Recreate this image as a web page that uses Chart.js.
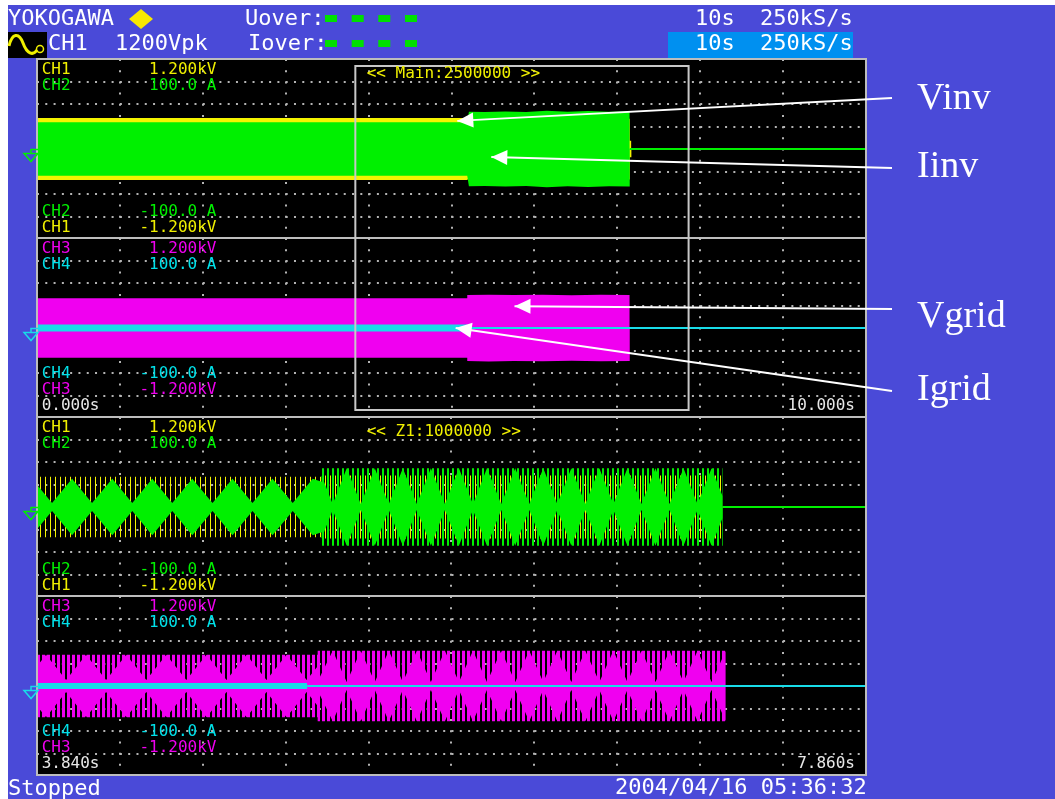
<!DOCTYPE html>
<html>
<head>
<meta charset="utf-8">
<title>Inverter to grid transfer</title>
<script src="https://cdn.jsdelivr.net/npm/chart.js@4.4.1/dist/chart.umd.min.js"></script>
<style>
  body { margin: 0; background: #fff; }
  #scope { position: relative; width: 1055px; height: 799px; overflow: hidden; background: #fff; }
  #frame { position: absolute; left: 8px; top: 5px; right: 0; bottom: 0; background: #4a4ad8; }
  #tbox { position: absolute; left: 668px; top: 32px; width: 185px; height: 26px; background: #0090f0; }
  #screen { position: absolute; left: 37px; top: 59px; width: 829px; height: 716px; background: #000; }
  #bezel { position: absolute; left: 36px; top: 58px; width: 831px; height: 718px; border: 2px solid #bdbdbd; box-sizing: border-box; }
  .sep { position: absolute; left: 37px; width: 829px; height: 2px; background: #bdbdbd; }
  canvas.panel { position: absolute; left: 37px; }
  #overlay { position: absolute; left: 0; top: 0; }
  .t { position: absolute; white-space: pre; line-height: 1; font-family: 'DejaVu Sans Mono', monospace; }
  .s { font-size: 16px; }
  .h { font-size: 22px; color: #fff; }
  .lbl { font-family: 'Liberation Serif', serif; font-size: 38px; color: #fff; }
</style>
</head>
<body>
<div id="scope">
  <div id="frame"></div>
  <div id="tbox"></div>
  <div id="screen"></div>
  <canvas id="p1" class="panel" width="829" height="180" style="top:59px"></canvas>
  <canvas id="p2" class="panel" width="829" height="180" style="top:238px"></canvas>
  <canvas id="p3" class="panel" width="829" height="180" style="top:417px"></canvas>
  <canvas id="p4" class="panel" width="829" height="180" style="top:596px"></canvas>
  <div id="bezel"></div>
  <div class="sep" style="top:237px"></div>
  <div class="sep" style="top:416px"></div>
  <div class="sep" style="top:595px"></div>
  <canvas id="overlay" width="1055" height="799"></canvas>
</div>
<script>
// timebases and vertical ranges
const mainSpan = [0, 10];        // s, upper two traces
const zoomSpan = [3.84, 7.86];   // s, Z1 window, lower two traces
const voltSpan = [-1200, 1200];  // V  (CH1, CH3)
const ampSpan  = [-100, 100];    // A  (CH2, CH4)

// envelopes: time (s) and peak value, traces are symmetric about zero
// CH1 Vinv, main window
const vinvT  = [0, 5.19, 5.19, 7.15, 7.15, 7.17, 7.17, 10];
const vinvPk = [414, 414, 405, 405, 110, 110, 0, 0];
// CH2 Iinv, main window
const iinvT  = [0, 5.19, 5.21, 5.40, 5.65, 5.90, 6.15, 6.40, 6.65, 6.90, 7.15, 7.15, 10];
const iinvPk = [29.8, 29.8, 41.5, 41.0, 41.8, 41.2, 42.4, 41.5, 42.1, 41.4, 41.7, 0, 0];
// CH3 Vgrid, main window
const vgridT  = [0, 5.19, 5.19, 5.45, 5.75, 6.10, 6.45, 6.80, 7.15, 7.15, 10];
const vgridPk = [396, 396, 441, 445, 440, 444, 438, 443, 441, 0, 0];
// CH4 Igrid, main window
const igridT  = [0, 5.19, 5.19, 10];
const igridPk = [3.9, 3.9, 0, 0];

// Z1 window
const vinvZT   = [3.84, 5.22, 5.22, 7.165, 7.165, 7.86];
const vinvZPk  = [402, 402, 420, 420, 0, 0];
const iinvZT   = [3.84, 5.22, 5.22, 7.165, 7.165, 7.86];
const iinvZPk  = [0, 0, 43, 43, 0, 0];
// beat pattern of the Iinv samples (peaks and waists)
const iinvBeatT = [3.840, 3.913, 4.010, 4.107, 4.205, 4.302, 4.399, 4.496, 4.593, 4.691, 4.788, 4.885,
  4.982, 5.080, 5.177, 5.220, 5.220, 5.274, 5.342, 5.410, 5.478, 5.546, 5.614, 5.682, 5.750, 5.818,
  5.886, 5.954, 6.022, 6.091, 6.159, 6.227, 6.295, 6.363, 6.431, 6.499, 6.567, 6.635, 6.703, 6.771,
  6.839, 6.907, 6.975, 7.043, 7.111, 7.165, 7.165];
const iinvBeatPk = [24.6, 4.5, 31.3, 4.5, 31.3, 4.5, 31.3, 4.5, 31.3, 4.5, 31.3, 4.5,
  31.3, 4.5, 31.3, 28, 35, 3.4, 43, 3.4, 43, 3.4, 43, 3.4, 43, 3.4,
  43, 3.4, 43, 3.4, 43, 3.4, 43, 3.4, 43, 3.4, 43, 3.4, 43, 3.4,
  43, 3.4, 43, 3.4, 43, 12, 0];
const vgridZT  = [3.84, 5.201, 5.201, 7.18, 7.18, 7.86];
const vgridZPk = [416, 416, 469, 469, 0, 0];
const vgridBeatT = [3.840, 3.884, 3.981, 4.078, 4.175, 4.273, 4.370, 4.467, 4.564, 4.662, 4.759, 4.856,
  4.953, 5.050, 5.148, 5.201, 5.201, 5.274, 5.342, 5.410, 5.478, 5.546, 5.614, 5.682, 5.750, 5.818,
  5.886, 5.954, 6.022, 6.091, 6.159, 6.227, 6.295, 6.363, 6.431, 6.499, 6.567, 6.635, 6.703, 6.771,
  6.839, 6.907, 6.975, 7.043, 7.111, 7.180, 7.180];
const vgridBeatPk = [265, 416, 80, 416, 80, 416, 80, 416, 80, 416, 80, 416,
  80, 416, 80, 265, 60, 469, 54, 469, 54, 469, 54, 469, 54, 469,
  54, 469, 54, 469, 54, 469, 54, 469, 54, 469, 54, 469, 54, 469,
  54, 469, 54, 469, 54, 469, 0];
const igridZT  = [3.84, 5.15, 5.15, 7.86];
const igridZPk = [3.4, 3.4, 0, 0];

const YELLOW = '#f4f400', GREEN = '#00f000', MAGENTA = '#f000f0', CYAN = '#18dce8', DOT = '#b4b4b4';
const LEFT = 37, TOPS = [59, 238, 417, 596];

// vertical stripe fill, 5px period
function stripes(canvas, color, on, shift) {
  const c = document.createElement('canvas');
  c.width = 5; c.height = 2;
  const g = c.getContext('2d');
  g.fillStyle = color;
  g.fillRect(shift, 0, on, 2);
  return canvas.getContext('2d').createPattern(c, 'repeat');
}

// upper and lower edge of an envelope, both filled to zero.
// where the envelope is flat at zero the idle trace is drawn
function band(t, pk, color, fill, axis, order) {
  const edge = sign => t.map((x, i) => ({ x: x, y: sign * pk[i] }));
  const common = { yAxisID: axis, order: order, fill: 'origin', backgroundColor: fill,
    borderColor: 'rgba(0,0,0,0)', pointRadius: 0, tension: 0 };
  return [
    Object.assign({ data: edge(1), borderWidth: 2,
      segment: { borderColor: c => (c.p0.parsed.y === 0 && c.p1.parsed.y === 0) ? color : undefined } }, common),
    Object.assign({ data: edge(-1), borderWidth: 0 }, common)
  ];
}

function divisions(span, n) {
  const out = [];
  for (let i = 0; i <= n; i++) out.push({ value: span[0] + (span[1] - span[0]) * i / n });
  return out;
}

function scopePanel(canvas, span, datasets) {
  return new Chart(canvas, {
    type: 'line',
    data: { datasets: datasets },
    options: {
      responsive: false, animation: false, events: [], devicePixelRatio: 1,
      layout: { padding: 0, autoPadding: false },
      plugins: { legend: { display: false }, tooltip: { enabled: false } },
      scales: {
        x: { type: 'linear', min: span[0], max: span[1], z: 1,
             afterBuildTicks: s => { s.ticks = divisions(span, 10); },
             ticks: { display: false },
             grid: { color: DOT, lineWidth: 2, drawTicks: false },
             border: { display: false, dash: [2, 9.19] } },
        yV: { type: 'linear', position: 'left', min: voltSpan[0], max: voltSpan[1], z: 1,
              afterBuildTicks: s => { s.ticks = divisions(voltSpan, 8); },
              ticks: { display: false },
              grid: { color: DOT, lineWidth: 2, drawTicks: false },
              border: { display: false, dash: [2, 6.29] } },
        yA: { type: 'linear', position: 'right', min: ampSpan[0], max: ampSpan[1], display: false }
      }
    }
  });
}

const cv = ['p1', 'p2', 'p3', 'p4'].map(id => document.getElementById(id));
const charts = [
  scopePanel(cv[0], mainSpan, [
    ...band(iinvT, iinvPk, GREEN, GREEN, 'yA', 1),
    ...band(vinvT, vinvPk, YELLOW, YELLOW, 'yV', 2)]),
  scopePanel(cv[1], mainSpan, [
    ...band(igridT, igridPk, CYAN, CYAN, 'yA', 1),
    ...band(vgridT, vgridPk, MAGENTA, MAGENTA, 'yV', 2)]),
  scopePanel(cv[2], zoomSpan, [
    ...band(iinvBeatT, iinvBeatPk, GREEN, GREEN, 'yA', 1),
    ...band(iinvZT, iinvZPk, GREEN, stripes(cv[2], GREEN, 2, 0), 'yA', 2),
    ...band(vinvZT, vinvZPk, YELLOW, stripes(cv[2], YELLOW, 1, 3), 'yV', 3)]),
  scopePanel(cv[3], zoomSpan, [
    ...band(igridZT, igridZPk, CYAN, CYAN, 'yA', 1),
    ...band(vgridBeatT, vgridBeatPk, MAGENTA, MAGENTA, 'yV', 2),
    ...band(vgridZT, vgridZPk, MAGENTA, stripes(cv[3], MAGENTA, 3, 0), 'yV', 3)])
];

// ---- overlay: zoom window, ground marks, callouts, header icons ----
const ov = document.getElementById('overlay').getContext('2d');
const px = (i, t) => LEFT + charts[i].scales.x.getPixelForValue(t);
const py = (i, axis, v) => TOPS[i] + charts[i].scales[axis].getPixelForValue(v);

const zx0 = px(0, zoomSpan[0]), zx1 = px(0, zoomSpan[1]);
ov.strokeStyle = '#c8c8c8'; ov.lineWidth = 2;
ov.strokeRect(zx0, 66, zx1 - zx0, 344);

function ground(i, color) {
  const y = Math.round(py(i, 'yV', 0)) + 0.5;
  ov.strokeStyle = color; ov.lineWidth = 1.5;
  ov.beginPath(); ov.moveTo(39, y); ov.lineTo(31, y); ov.lineTo(31, y + 4); ov.stroke();
  ov.beginPath(); ov.moveTo(24, y + 4); ov.lineTo(38, y + 4); ov.lineTo(31, y + 12); ov.closePath(); ov.stroke();
}
ground(0, GREEN); ground(1, CYAN); ground(2, GREEN); ground(3, CYAN);

const callouts = [
  { text: 'Vinv',  panel: 0, axis: 'yV', t: 5.07, v: 375, top: 76.5,  end: [892, 98] },
  { text: 'Iinv',  panel: 0, axis: 'yA', t: 5.48, v: -9,  top: 144.9, end: [892, 168] },
  { text: 'Vgrid', panel: 1, axis: 'yV', t: 5.76, v: 290, top: 294.9, end: [892, 309] },
  { text: 'Igrid', panel: 1, axis: 'yA', t: 5.05, v: 0,   top: 368.2, end: [892, 391] }
];

function arrow(x0, y0, x1, y1) {
  const a = Math.atan2(y1 - y0, x1 - x0), c = Math.cos(a), s = Math.sin(a);
  ov.strokeStyle = '#fff'; ov.fillStyle = '#fff'; ov.lineWidth = 2;
  ov.beginPath(); ov.moveTo(x0, y0); ov.lineTo(x1, y1); ov.stroke();
  ov.beginPath(); ov.moveTo(x1, y1);
  ov.lineTo(x1 - 16 * c + 7.5 * s, y1 - 16 * s - 7.5 * c);
  ov.lineTo(x1 - 16 * c - 7.5 * s, y1 - 16 * s + 7.5 * c);
  ov.closePath(); ov.fill();
}
callouts.forEach(k => arrow(k.end[0], k.end[1], px(k.panel, k.t), py(k.panel, k.axis, k.v)));

// waveform icon and trigger diamond in the header
ov.fillStyle = '#000'; ov.fillRect(8, 32, 39, 26);
ov.strokeStyle = '#f0f000'; ov.lineWidth = 3;
ov.beginPath(); ov.moveTo(9, 46);
ov.bezierCurveTo(12, 33, 19, 32, 23, 43);
ov.bezierCurveTo(27, 54, 33, 56, 37, 50);
ov.stroke();
ov.lineWidth = 1.5;
ov.beginPath(); ov.arc(40, 49, 3.5, 0, Math.PI * 2); ov.stroke();
ov.fillStyle = '#f8e800';
ov.beginPath(); ov.moveTo(141, 9); ov.lineTo(153, 19); ov.lineTo(141, 29); ov.lineTo(129, 19); ov.closePath(); ov.fill();
ov.fillStyle = '#00e000';
[325, 351.7, 378.3, 405].forEach(x => { ov.fillRect(x, 15, 12, 7); ov.fillRect(x, 40, 12, 7); });

// ---- text ----
const scope = document.getElementById('scope');
function put(text, x, y, cls, color, alignRight) {
  const d = document.createElement('div');
  d.className = 't ' + cls;
  d.textContent = text;
  if (alignRight) d.style.right = (1055 - x) + 'px'; else d.style.left = x + 'px';
  d.style.top = y + 'px';
  if (color) d.style.color = color;
  scope.appendChild(d);
}

put('YOKOGAWA', 8, 7.4, 'h');
put('Uover:', 245, 7.4, 'h');
put('10s', 695, 7.4, 'h');
put('250kS/s', 760, 7.4, 'h');
put('CH1', 48, 32.4, 'h');
put('1200Vpk', 115, 32.4, 'h');
put('Iover:', 248, 32.4, 'h');
put('10s', 695, 32.4, 'h');
put('250kS/s', 760, 32.4, 'h');
put('Stopped', 8, 776.7, 'h');
put('2004/04/16 05:36:32', 615, 775.7, 'h');

const TXT_Y = '#f0f000', TXT_G = '#00f000', TXT_M = '#f000f0', TXT_C = '#00e0e8';
function channelText(top, vCh, vCol, aCh, aCol, span) {
  put(vCh, 41.7, top + 2, 's', vCol);  put('1.200kV', 149, top + 2, 's', vCol);
  put(aCh, 41.7, top + 17.6, 's', aCol); put('100.0 A', 149, top + 17.6, 's', aCol);
  const low = span ? top + 127.4 : top + 144.1;
  put(aCh, 41.7, low, 's', aCol); put('-100.0 A', 139.4, low, 's', aCol);
  put(vCh, 41.7, low + 15.5, 's', vCol); put('-1.200kV', 139.4, low + 15.5, 's', vCol);
  if (span) {
    put(span[0].toFixed(3) + 's', 41.7, low + 32, 's', '#e8e8e8');
    put(span[1].toFixed(3) + 's', 855, low + 32, 's', '#e8e8e8', true);
  }
}
channelText(TOPS[0], 'CH1', TXT_Y, 'CH2', TXT_G, null);
channelText(TOPS[1], 'CH3', TXT_M, 'CH4', TXT_C, mainSpan);
channelText(TOPS[2], 'CH1', TXT_Y, 'CH2', TXT_G, null);
channelText(TOPS[3], 'CH3', TXT_M, 'CH4', TXT_C, zoomSpan);
put('<< Main:2500000 >>', 366.7, 64.8, 's', TXT_Y);
put('<< Z1:1000000 >>', 366.7, 423, 's', TXT_Y);

callouts.forEach(k => put(k.text, 917, k.top, 'lbl'));
</script>
</body>
</html>
